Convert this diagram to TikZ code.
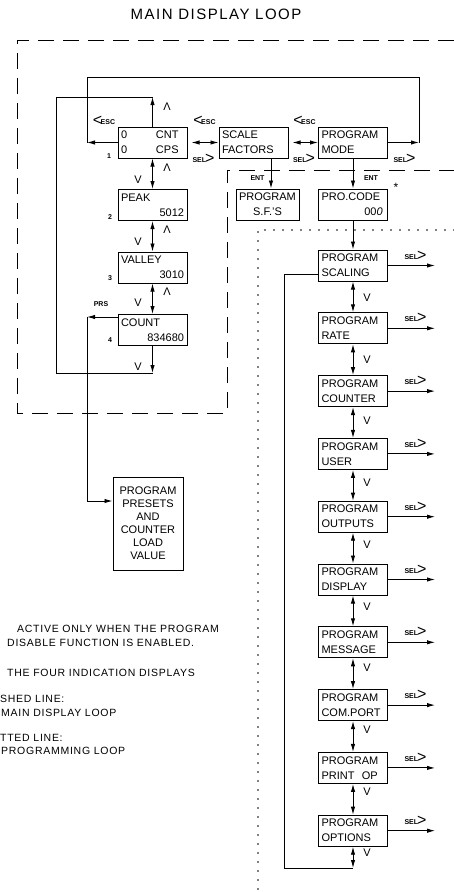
\documentclass[tikz,border=0pt]{standalone}
\usepackage{fontspec}
\setmainfont{Liberation Sans}
\newfontfamily\notefont{Liberation Sans}[LetterSpace=7]
\newfontfamily\titlefont{Liberation Sans}[LetterSpace=10]
\usetikzlibrary{arrows.meta, positioning, calc}

\newcommand{\keyfont}{\fontsize{7}{8}\selectfont\bfseries}
\newcommand{\chev}[1]{\raisebox{-1pt}{\fontsize{16}{16}\selectfont #1}}
\newcommand{\esckey}{\chev{<}\kern-1.5pt{\keyfont ESC}}
\newcommand{\selkey}{{\keyfont SEL}\kern-1pt\chev{>}}
\newcommand{\rline}[1]{\makebox[\linewidth][r]{#1}}

\tikzset{
  disp/.style={draw, line width=1pt, text width=63pt, inner xsep=3pt, inner ysep=0pt,
    minimum height=31pt, align=left, font=\fontsize{11}{15}\selectfont},
  keylab/.style={inner sep=0pt, font=\keyfont},
  keytag/.style={inner sep=0pt},
  updn/.style={inner sep=0pt, font=\fontsize{11}{11}\selectfont},
  note/.style={anchor=base west, inner sep=0pt, font=\notefont\fontsize{10.5}{12}\selectfont},
  wire/.style={line width=0.9pt},
  link/.style={wire, -{Latex[length=8pt,width=4.4pt]}},
  both/.style={wire, {Latex[length=8pt,width=4.4pt]}-{Latex[length=8pt,width=4.4pt]}},
  mainloop/.style={line width=0.9pt, dash pattern=on 16pt off 9pt},
  progloop/.style={line width=1.7pt, line cap=round, dash pattern=on 0pt off 9pt},
}

\begin{document}
\begin{tikzpicture}[x=1pt, y=-1pt, node distance=30.8pt]
\useasboundingbox (0,0) rectangle (454,892);

\node[font=\titlefont\fontsize{15}{15}\selectfont] (title) at (216,14) {MAIN DISPLAY LOOP};

% loop borders
\draw[mainloop] (454,40) -- (17,40) -- (17,413) -- (227,413) -- (227,170) -- (454,170);
\draw[progloop] (454,230) -- (258,230) -- (258,892);

% main display loop
\node[disp] (cnt) at (152.5,142.5) {\makebox[35pt][l]{0}CNT\\\makebox[35pt][l]{0}CPS};
\node[disp, below=30.5pt of cnt] (peak) {PEAK\\\rline{5012}};
\node[disp, below=30.5pt of peak] (valley) {VALLEY\\\rline{3010}};
\node[disp, below=30.5pt of valley] (count) {COUNT\\\rline{834680}};
\node[disp] (scale) at (253.5,142.5) {SCALE\\FACTORS};
\node[disp] (pmode) at (353,142.5) {PROGRAM\\MODE};
\node[disp, text width=57pt] (psf) at (267.5,204.5) {PROGRAM\\\makebox[\linewidth][c]{S.F.'S}};
\node[disp] (procode) at (353,204.5) {PRO.CODE\\\rline{00\textit{0}\,}};
\node[disp, text width=64pt, minimum height=93pt, align=center, font=\fontsize{11}{13}\selectfont]
  (presets) at (148,523.5) {PROGRAM\\PRESETS\\AND\\COUNTER\\LOAD\\VALUE};

% programming loop
\node[disp] (scaling) at (353,265.5) {PROGRAM\\SCALING};
\node[disp, below=of scaling] (rate) {PROGRAM\\RATE};
\node[disp, below=of rate] (counter) {PROGRAM\\COUNTER};
\node[disp, below=of counter] (user) {PROGRAM\\USER};
\node[disp, below=of user] (outputs) {PROGRAM\\OUTPUTS};
\node[disp, below=of outputs] (display) {PROGRAM\\DISPLAY};
\node[disp, below=of display] (message) {PROGRAM\\MESSAGE};
\node[disp, below=of message] (comport) {PROGRAM\\COM.PORT};
\node[disp, below=of comport] (printop) {PROGRAM\\PRINT\ \ OP};
\node[disp, below=of printop] (options) {PROGRAM\\OPTIONS};

% key labels
\node[keytag] (esc0) at (104,121) {\esckey};
\node[keytag] (esc1) at (204.5,121) {\esckey};
\node[keytag] (esc2) at (304.5,121) {\esckey};
\node[keytag] (sel1) at (203.5,159) {\selkey};
\node[keytag] (sel2) at (304,159) {\selkey};
\node[keytag] (sel3) at (404.5,159) {\selkey};
\node[keylab] (ent1) at (257.5,178) {ENT};
\node[keylab] (ent2) at (371,178) {ENT};
\node[font=\fontsize{12}{12}\selectfont, inner sep=0pt] (star) at (396,187) {*};
\node[keylab] (num1) at (109,156) {1};
\node[keylab] (num2) at (110,217) {2};
\node[keylab] (num3) at (110,278) {3};
\node[keylab] (num4) at (110,340) {4};
\node[keylab] (prs) at (101,304) {PRS};

\node[updn] (up0) at (167,107) {Λ};
\node[updn] (up1) at (167,168) {Λ};
\node[updn] (up2) at (167,230) {Λ};
\node[updn] (up3) at (167,292) {Λ};
\node[updn] (dn1) at (138,180) {V};
\node[updn] (dn2) at (138,242) {V};
\node[updn] (dn3) at (138,303) {V};
\node[updn] (dn4) at (138,367) {V};

\node[updn] (pdn1) at (367,298) {V};
\node[updn] (pdn2) at (367,360) {V};
\node[updn] (pdn3) at (367,421) {V};
\node[updn] (pdn4) at (367,483) {V};
\node[updn] (pdn5) at (367,545) {V};
\node[updn] (pdn6) at (367,607) {V};
\node[updn] (pdn7) at (367,668) {V};
\node[updn] (pdn8) at (367,730) {V};
\node[updn] (pdn9) at (367,792) {V};
\node[updn] (pdn10) at (367,853) {V};

% connectors, main loop
\coordinate (uptop) at (152.5,97);
\coordinate (downbot) at (152.5,373);
\coordinate (loopcorner) at (56,97);
\draw[both] (cnt) -- (peak);
\draw[both] (peak) -- (valley);
\draw[both] (valley) -- (count);
\draw[link] (cnt) -- (uptop);
\draw[link] (count) -- (downbot);
\draw[wire] (uptop) -- (loopcorner) |- (downbot);

\draw[both, shorten <=4pt] (cnt) -- (scale);
\draw[both, shorten <=4pt] (scale) -- (pmode);
\coordinate (escleft) at (87,142.5);
\coordinate (esctop) at (87,77);
\coordinate (escright) at (419,142.5);
\draw[link] (cnt) -- (escleft);
\draw[link] (pmode) -- (escright);
\draw[wire] (escleft) -- (esctop) -| (escright);

\draw[link] ([xshift=3.5pt]psf.north |- scale.south) -- ([xshift=3.5pt]psf.north);
\draw[link] (pmode) -- (procode);
\draw[link] (procode) -- (scaling);

\coordinate (prsturn) at (87,317);
\coordinate (prsin) at ([yshift=22.5pt]presets.west);
\draw[link] (count.west |- prsturn) -- (prsturn);
\draw[link] (prsturn) |- (prsin);

% connectors, programming loop
\draw[both] (scaling) -- (rate);
\draw[both] (rate) -- (counter);
\draw[both] (counter) -- (user);
\draw[both] (user) -- (outputs);
\draw[both] (outputs) -- (display);
\draw[both] (display) -- (message);
\draw[both] (message) -- (comport);
\draw[both] (comport) -- (printop);
\draw[both] (printop) -- (options);
\coordinate (progbot) at (353,868);
\coordinate (progcorner) at (284,868);
\coordinate (progin) at ([yshift=-8.5pt]scaling.west);
\draw[both] (options) -- (progbot);
\draw[wire] (progbot) -- (progcorner) |- (progin);

\foreach \bx in {scaling,rate,counter,user,outputs,display,message,comport,printop,options}{
  \coordinate (\bx-sel) at ([xshift=47pt]\bx.east);
  \draw[link] (\bx.east) -- (\bx-sel);
  \node[keytag] (\bx-key) at ([xshift=27.5pt,yshift=10pt]\bx.east) {\selkey};
}

% notes
\node[note] (note1) at (17,632) {ACTIVE ONLY WHEN THE PROGRAM};
\node[note] (note2) at (7,646) {DISABLE FUNCTION IS ENABLED.};
\node[note] (note3) at (7,676) {THE FOUR INDICATION DISPLAYS};
\node[note] (note4) at (0,702) {SHED LINE:};
\node[note] (note5) at (1,716) {MAIN DISPLAY LOOP};
\node[note] (note6) at (0,741) {TTED LINE:};
\node[note] (note7) at (1,754) {PROGRAMMING LOOP};
\end{tikzpicture}
\end{document}
